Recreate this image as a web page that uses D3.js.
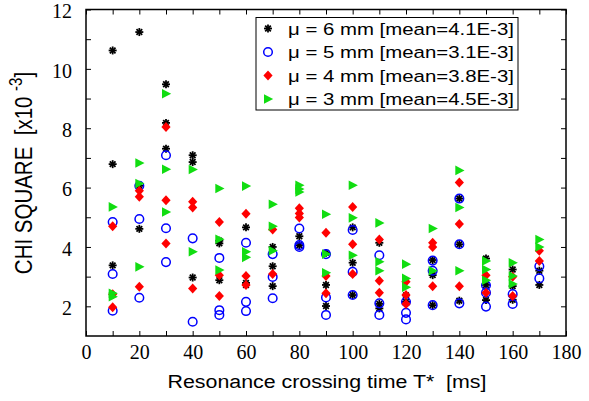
<!DOCTYPE html>
<html>
<head>
<meta charset="utf-8">
<script src="https://cdn.jsdelivr.net/npm/d3@7"></script>
<style>
  body { margin: 0; background: #fff; }
  .tick line { stroke: #000; stroke-width: 1; }
  .tick text { font-family: "Liberation Serif", "DejaVu Serif", serif; font-size: 20px; fill: #000; }
  text { white-space: pre; }
</style>
</head>
<body>
<svg width="589" height="401"></svg>
<script>
// crossing times (ms)
const times = [10, 20, 30, 40, 50, 60, 70, 80, 90, 100, 110, 120, 130, 140, 150, 160, 170]

// chi square values x1e-3, one list per crossing time
const mu6 = [
  [10.62, 6.79, 3.38], [11.24, 6.06, 4.61], [9.48, 8.18, 7.31], [7.09, 6.86, 2.97],
  [4.21, 4.12, 2.88], [4.66, 2.79, 2.72], [4.00, 3.35, 2.68], [4.36, 4.06],
  [3.80, 2.72, 2.01], [4.66, 3.47, 2.38], [4.14, 2.08, 1.93], [2.37, 2.15],
  [3.56, 3.05, 2.04], [5.63, 4.09, 2.19], [3.61, 2.72, 2.21], [3.24, 2.68, 2.22],
  [3.20, 2.72]
]
const mu5 = [
  [4.84, 3.09, 1.85], [6.06, 4.94, 2.29], [7.09, 4.63, 3.49], [4.29, 1.48],
  [3.63, 1.87, 1.71], [4.14, 2.15, 1.84], [3.76, 2.99, 2.27], [4.62, 4.06, 4.00],
  [3.76, 2.30, 1.71], [4.57, 3.16, 2.38], [3.72, 2.10, 1.71], [2.15, 1.78, 1.56],
  [3.54, 3.20, 2.04], [5.63, 4.09, 2.10], [2.71, 2.46, 1.99], [2.41, 2.08],
  [3.35, 2.94]
]
const mu4 = [
  [4.70, 2.41, 1.97], [5.89, 5.69, 2.66], [8.04, 5.57, 4.12], [5.52, 5.33, 2.60],
  [4.84, 3.05, 2.35], [5.12, 3.02, 2.72], [4.59, 3.09], [5.30, 5.13, 4.99],
  [4.48, 3.02, 2.44], [5.35, 4.09, 3.09], [4.25, 2.86, 2.46], [2.83, 2.38, 2.08],
  [4.14, 4.00, 2.68], [6.17, 4.77, 2.68], [3.05, 2.46], [3.00, 2.35],
  [3.87, 3.53]
]
const mu3 = [
  [5.35, 2.44, 2.32], [6.83, 6.14, 3.33], [9.16, 6.62, 5.18], [6.61, 3.84],
  [5.97, 4.26, 3.22], [6.05, 3.84, 3.65], [5.44, 4.70, 3.87], [6.08, 5.95, 5.85],
  [5.10, 3.76, 3.13], [6.08, 4.98, 3.72], [4.81, 3.50, 3.20], [3.42, 2.94, 2.64],
  [4.62, 3.20], [6.58, 5.33, 3.20], [3.53, 3.24, 2.88], [3.47, 3.02, 2.75],
  [4.25, 4.00]
]

const legendLabels = [
  "\u03bc = 6 mm [mean=4.1E-3]",
  "\u03bc = 5 mm [mean=3.1E-3]",
  "\u03bc = 4 mm [mean=3.8E-3]",
  "\u03bc = 3 mm [mean=4.5E-3]"
]

const xTicks = d3.range(0, 181, 10)
const yTicks = d3.range(2, 13, 1)

const sans = '"Liberation Sans", Arial, sans-serif'

const margin = {top: 9.5, right: 23, bottom: 65, left: 86}
const svg = d3.select("svg")
const width = +svg.attr("width")
const height = +svg.attr("height")

const xScale = d3.scaleLinear().domain([0, 180]).range([margin.left, width - margin.right])
const yScale = d3.scaleLinear().domain([1, 12]).range([height - margin.bottom, margin.top])

// axes, ticks pointing inward
svg.append("g")
  .attr("transform", `translate(0, ${yScale(1)})`)
  .call(d3.axisBottom(xScale).tickValues(xTicks).tickSize(-5).tickPadding(9)
    .tickFormat(d => d % 20 === 0 ? d : ""))
  .call(g => g.select(".domain").remove())

svg.append("g")
  .attr("transform", `translate(0, ${yScale(12)})`)
  .call(d3.axisTop(xScale).tickValues(xTicks).tickSize(-5).tickFormat(""))
  .call(g => g.select(".domain").remove())

svg.append("g")
  .attr("transform", `translate(${xScale(0)}, 0)`)
  .call(d3.axisLeft(yScale).tickValues(yTicks).tickSize(-5).tickPadding(14)
    .tickFormat(d => d % 2 === 0 ? d : ""))
  .call(g => g.select(".domain").remove())
  .call(g => g.selectAll("text").attr("dy", "0.42em"))

svg.append("g")
  .attr("transform", `translate(${xScale(180)}, 0)`)
  .call(d3.axisRight(yScale).tickValues(yTicks).tickSize(-5).tickFormat(""))
  .call(g => g.select(".domain").remove())

svg.append("rect")
  .attr("x", xScale(0))
  .attr("y", yScale(12))
  .attr("width", xScale(180) - xScale(0))
  .attr("height", yScale(1) - yScale(12))
  .attr("fill", "none")
  .attr("stroke", "#000")
  .attr("stroke-width", 1.5)

// marker drawing
const drawStar = (g) => {
  g.selectAll("line").data([0, 45, 90, 135]).join("line")
    .attr("x1", -4).attr("x2", 4).attr("y1", 0).attr("y2", 0)
    .attr("transform", d => `rotate(${d})`)
    .attr("stroke", "#000").attr("stroke-width", 1.8)
}
const drawCircle = (g) => {
  g.append("circle").attr("r", 4.3)
    .attr("fill", "none").attr("stroke", "#0000ff").attr("stroke-width", 1.5)
}
const drawDiamond = (g) => {
  g.append("path").attr("d", "M0,-5L4.6,0L0,5L-4.6,0Z").attr("fill", "#ff0000")
}
const drawTriangle = (g) => {
  g.append("path").attr("d", "M-4,-4.8L5.2,0L-4,4.8Z").attr("fill", "#11dd11")
}

const series = [
  {values: mu6, draw: drawStar},
  {values: mu5, draw: drawCircle},
  {values: mu4, draw: drawDiamond},
  {values: mu3, draw: drawTriangle}
]

series.forEach(s => {
  const points = []
  s.values.forEach((vals, i) => vals.forEach(v => points.push({time: times[i], chi: v})))
  svg.append("g").selectAll("g")
    .data(points)
    .join("g")
    .attr("transform", d => `translate(${xScale(d.time)}, ${yScale(d.chi)})`)
    .each(function () { s.draw(d3.select(this)) })
})

// legend
const legend = svg.append("g")
legend.append("rect")
  .attr("x", 256).attr("y", 17.5).attr("width", 262).attr("height", 92.5)
  .attr("fill", "#fff").attr("stroke", "#000").attr("stroke-width", 1)

legendLabels.forEach((label, i) => {
  const y = 28.5 + i * 23.5
  const m = legend.append("g").attr("transform", `translate(268, ${y})`)
  series[i].draw(m)
  legend.append("text")
    .attr("transform", `translate(288, ${y + 6}) scale(1.2, 1)`)
    .style("font-family", sans)
    .style("font-size", "17px")
    .text(label)
})

// axis titles
svg.append("text")
  .attr("transform", `translate(327, 388) scale(1.2, 1)`)
  .attr("text-anchor", "middle")
  .style("font-family", sans)
  .style("font-size", "17.8px")
  .text("Resonance crossing time T*\u00a0\u00a0[ms]")

const yTitle = svg.append("text")
  .attr("transform", `translate(32, 173) scale(1.2, 1) rotate(-90)`)
  .attr("text-anchor", "middle")
  .style("font-family", sans)
  .style("font-size", "20.5px")
yTitle.append("tspan").text("CHI SQUARE\u00a0\u00a0[x10\u00a0")
yTitle.append("tspan").style("font-size", "15px").attr("dy", -8).text("-3")
yTitle.append("tspan").attr("dy", 8).text("]")
</script>
</body>
</html>
